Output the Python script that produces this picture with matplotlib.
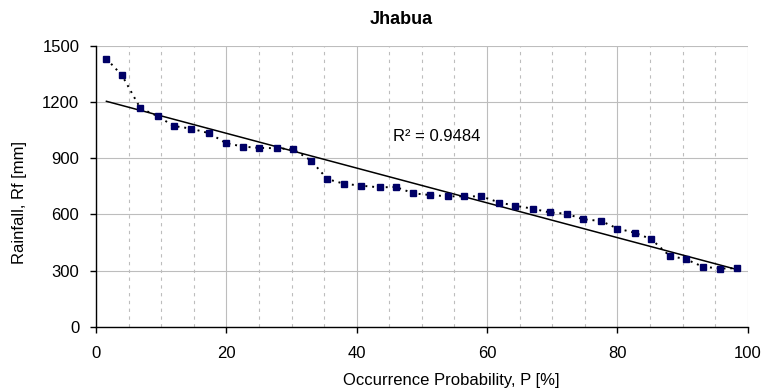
import numpy as np
import matplotlib.pyplot as plt
from matplotlib.ticker import MultipleLocator

plt.rcParams['font.family'] = ['Liberation Sans', 'DejaVu Sans']

# occurrence probability (%) and annual rainfall (mm), Jhabua
prob = [1.6, 4.0, 6.8, 9.5, 11.9, 14.6, 17.4, 19.9, 22.5, 25.0, 27.8, 30.3, 33.0,
        35.5, 38.1, 40.7, 43.5, 46.0, 48.7, 51.3, 54.0, 56.4, 59.1, 61.9, 64.3,
        67.0, 69.6, 72.2, 74.7, 77.5, 80.0, 82.7, 85.2, 88.0, 90.5, 93.1, 95.8, 98.3]
rain = [1432, 1343, 1168, 1125, 1073, 1059, 1034, 982, 963, 956, 954, 948, 888,
        789, 764, 754, 745, 747, 713, 704, 697, 697, 697, 664, 647,
        631, 611, 604, 575, 565, 525, 502, 468, 379, 361, 321, 311, 313]
r2_label = "R\u00b2 = 0.9484"

x = np.array(prob)
y = np.array(rain)

fig = plt.figure(figsize=(7.65, 3.89), dpi=100)
ax = fig.add_axes([0.1255, 0.160, 0.852, 0.7215])

ax.set_xlim(0, 100)
ax.set_ylim(0, 1500)
ax.xaxis.set_major_locator(MultipleLocator(20))
ax.xaxis.set_minor_locator(MultipleLocator(5))
ax.yaxis.set_major_locator(MultipleLocator(300))

# grid: solid major lines, dashed minor verticals
ax.grid(True, which='major', color='#bdbdbd', lw=0.8, ls='-')
ax.grid(True, which='minor', axis='x', color='#bdbdbd', lw=0.8, ls=(0, (3, 4)))
ax.set_axisbelow(True)

# data series with dotted connector
ax.plot(x, y, ls=(0, (1, 2.5)), color='black', lw=1.4, marker='s', ms=4.8,
        mfc='#000066', mec='#000066', zorder=3)

# linear trend line
k, b = np.polyfit(x, y, 1)
xt = np.array([x[0], x[-1]])
ax.plot(xt, k * xt + b, color='black', lw=1.1, zorder=2)

ax.text(45.5, 1018, r2_label, fontsize=12, va='center', ha='left')

for s in ['top', 'right']:
    ax.spines[s].set_visible(False)
for s in ['left', 'bottom']:
    ax.spines[s].set_linewidth(1.0)

ax.tick_params(axis='both', which='major', length=4, width=1, labelsize=12, direction='out')
ax.tick_params(axis='x', which='major', pad=10)
ax.tick_params(axis='y', which='major', pad=8)
ax.tick_params(axis='x', which='minor', length=0)

fig.text(0.525, 0.949, 'Jhabua', fontsize=13, fontweight='bold', ha='center', va='center')
fig.text(0.590, 0.023, 'Occurrence Probability, P [%]', fontsize=12, ha='center', va='center')
fig.text(0.026, 0.48, 'Rainfall, Rf [mm]', fontsize=12, ha='center', va='center', rotation=90)

fig.savefig('out.png', dpi=100)
